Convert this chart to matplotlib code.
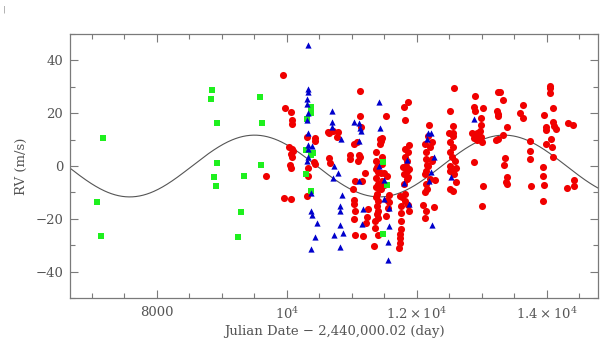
import numpy as np
import matplotlib
matplotlib.use("Agg")
import matplotlib.pyplot as plt
from matplotlib.ticker import MultipleLocator

# Radial velocity data (JD - 2,440,000.02, RV in m/s)
# green squares (oldest data set)
green_jd = [7077, 7138, 7169, 8830, 8846, 8877, 8908, 8923, 8923, 9246, 9292, 9338,
            9585, 9600, 9615, 10293, 10293, 10303, 10365, 10370, 10370, 10370, 10405,
            11472, 11482, 11534]
green_rv = [-13.7, -26.6, 10.6, 25.4, 28.8, -4.2, -7.6, 16.3, 1.1, -27.0, -17.5, -3.8,
            26.2, 0.4, 16.3, 6.1, -3.0, 17.7, 20.1, 22.5, 4.2, -9.4, 4.8,
            -25.8, 1.4, -7.1]

# blue triangles
blue_jd = [10323, 10319, 10323, 10313, 10313, 10323, 10308, 10319, 10328, 10390, 10319, 10319,
           10313, 10693, 10688, 10697, 10826, 11036, 11124, 11108, 10728, 10790, 10713, 10374,
           10370, 10380, 10467, 10431, 10370, 10851, 10816, 10820, 10820, 10857, 10724, 10820,
           11411, 11426, 11108, 11143, 12165, 12216, 12154, 12257, 11851, 11416, 11497, 11108,
           11497, 11574, 11170, 11574, 11149, 11877, 11805, 11549, 11549, 12185, 12236, 12216,
           12523, 12877]
blue_rv = [45.8, 29.0, 28.1, 25.4, 23.4, 20.2, 17.6, 12.4, 8.0, 7.7, 6.5, 3.3,
           2.0, 20.9, 16.8, 14.9, 10.1, 16.6, 14.4, 9.4, -0.1, -2.8, -4.7, -10.4,
           -16.9, -18.5, -21.4, -26.7, -31.4, -11.0, -15.1, -17.2, -22.5, -25.4, -26.1, -30.5,
           24.2, 14.3, 16.2, 13.4, 12.5, 12.5, 10.4, 3.5, 2.3, -0.1, -5.3, -5.8,
           -12.5, -16.0, -16.2, -22.7, -22.0, -14.4, -6.6, -28.6, -35.6, -5.6, -22.4, -2.4,
           -4.1, 17.8]

# red circles (most recent data set)
red_jd = [9677, 9939, 9954, 9974, 10057, 10082, 10082, 10026, 10070, 10093, 10060, 10072, 10047, 10057, 10066,
          10308, 10431, 10431, 10423, 10431, 10319, 10319, 10313,
          10636, 10652, 10713, 10790, 10770, 10652, 10662, 10964, 10964, 11036, 11082, 11124, 11124, 11139,
          11124, 11097, 11104, 11159, 11046, 11020, 11026, 11031, 11046, 11031, 11041, 11170, 11200, 11242,
          11236, 11211,
          11431, 11462, 11447, 11431, 11370, 11462, 11377, 11462, 11385, 11370, 11393, 11447, 11370, 11457,
          11400, 11365, 11447, 11416, 11380, 11370, 11393, 11380, 11400, 11380, 11400, 11354, 11354, 11400,
          11339, 11493, 11534, 11493, 11570, 11534, 11570, 11554, 11524, 11524,
          11800, 11867, 11816, 11877, 11816, 11862, 11816, 11847, 11831, 11877, 11785, 11842, 11800, 11862,
          11842, 11800, 11739, 11816, 11770, 11816, 11754, 11862, 11877, 11754, 11754, 11754, 11739, 11739,
          11739, 11724,
          12180, 12174, 12124, 12201, 12226, 12144, 12226, 12174, 12139, 12154, 12231, 12124, 12139, 12201,
          12277, 12139, 12150, 12124, 12098, 12134, 12124, 12262,
          12570, 12508, 12559, 12488, 12559, 12508, 12559, 12559, 12508, 12534, 12585, 12508, 12534, 12600,
          12508, 12575, 12595, 12508, 12549,
          12888, 12882, 12888, 13011, 12985, 12980, 12975, 12852, 12918, 12944, 12980, 12882, 12928, 12995,
          12882, 13021, 13006,
          13247, 13278, 13324, 13232, 13242, 13242, 13380, 13324, 13247, 13216, 13355, 13339, 13380, 13380,
          13370,
          13631, 13590, 13631, 13744, 13739, 13739, 13754,
          14042, 14047, 14047, 14089, 13950, 14093, 14113, 14134, 13980, 13985, 14067, 13985, 14072, 14093,
          13939, 13939, 13955, 13939,
          14328, 14405, 14313, 14416, 14416]
red_rv = [-3.8, 34.5, -12.1, 22.0, 20.6, 17.5, 15.8, 7.1, 6.3, 5.7, 4.6, 3.3, 0.4, -0.9, -12.5,
          11.0, 10.6, 9.5, 1.7, 0.8, -0.6, -3.9, -11.3,
          12.8, 12.5, 13.2, 12.8, 11.1, 3.0, 1.2, 4.3, 2.8, 8.4, 9.0, 28.5, 18.9, 14.6,
          3.3, 2.0, 4.2, -5.6, -5.6, -8.7, -13.0, -14.4, -16.9, -20.1, -26.2, -26.5, -2.8, -16.3,
          -19.2, -21.4,
          10.3, 10.6, 9.5, 8.3, 5.2, 3.6, 2.0, 0.8, -0.3, -1.0, -2.4, -2.8, -4.6, -5.6,
          -6.8, -8.1, -8.7, -8.3, -10.6, -11.9, -13.1, -15.1, -17.0, -18.2, -19.5, -20.8, -23.3, -26.2,
          -30.3, -2.8, -3.7, -7.1, -10.9, -12.9, -13.8, -16.0, -18.9, 18.9,
          22.3, 24.4, 17.6, 7.8, 6.5, 5.2, 3.3, 2.0, 0.1, -1.1, -0.5, -1.8, -3.0, -4.3,
          -4.9, -6.8, -11.3, -10.6, -11.9, -13.2, -15.1, -14.7, -17.2, -17.9, -21.0, -23.9, -25.8, -27.3,
          -29.3, -31.2,
          15.6, 11.5, 8.3, 7.1, 9.0, 5.3, 2.7, 0.1, 2.7, 0.5, 1.8, -3.0, -1.8, -4.9,
          -5.2, -6.8, -8.7, -10.0, -14.7, -17.0, -19.5, -15.5,
          29.5, 21.0, 15.3, 12.5, 12.4, 9.0, 11.5, 7.1, 5.2, 3.3, 2.0, 0.1, -2.4, -0.9,
          -2.0, -3.0, -6.0, -8.7, -9.6,
          26.7, 22.5, 21.0, 21.8, 18.2, 15.6, 13.4, 12.4, 12.5, 11.5, 10.9, 10.6, 9.9, 9.0,
          1.6, -7.5, -15.2,
          28.2, 28.0, 25.2, 21.0, 19.7, 18.9, 14.8, 11.8, 10.1, 9.9, 3.0, 0.5, -4.3, -6.8,
          -6.0,
          23.1, 20.2, 18.1, 9.5, 5.6, 2.7, -7.5,
          30.5, 29.7, 27.6, 22.1, 19.4, 16.7, 15.1, 14.0, 14.7, 13.8, 10.4, 8.3, 7.3, 3.4,
          -0.5, -3.7, -7.2, -13.4,
          16.3, 15.4, -8.5, -5.2, -7.5]

# sinusoidal orbit fit drawn over the data (parameters)
fit_period = 3840.0     # days
fit_amplitude = 11.7    # m/s
fit_t_min = 7580.0      # epoch of a velocity minimum

x_ticks = [8000, 10000, 12000, 14000]
x_tick_labels = ['8000', r'$10^4$', r'$1.2\times10^4$', r'$1.4\times10^4$']

plt.rcParams['font.family'] = 'DejaVu Serif'
plt.rcParams['mathtext.fontset'] = 'dejavuserif'

gray = '#7a7a7a'
text_gray = '#555555'

fig = plt.figure(figsize=(6, 3.38), dpi=100)
ax = fig.add_axes([0.1167, 0.1183, 0.88, 0.781])

xlim = (6662, 14785)
t = np.linspace(xlim[0], xlim[1], 600)
fit_rv = -fit_amplitude * np.cos(2 * np.pi * (t - fit_t_min) / fit_period)
ax.plot(t, fit_rv, color='#555555', lw=0.8, zorder=1)

ax.scatter(red_jd, red_rv, s=26, marker='o', color='#f00000', linewidths=0, zorder=2)
ax.scatter(green_jd, green_rv, s=14, marker='s', color='#1ef01e', linewidths=0, zorder=3)
ax.scatter(blue_jd, blue_rv, s=20, marker='^', color='#0000cc', linewidths=0, zorder=4)

ax.set_xlim(*xlim)
ax.set_ylim(-50, 50)

ax.set_xticks(x_ticks)
ax.set_xticklabels(x_tick_labels)
ax.xaxis.set_minor_locator(MultipleLocator(500))
ax.yaxis.set_major_locator(MultipleLocator(20))
ax.yaxis.set_minor_locator(MultipleLocator(10))

ax.tick_params(which='both', direction='in', top=True, right=True,
               color=gray, labelcolor=text_gray, width=0.8)
ax.tick_params(which='major', length=6, labelsize=9.5)
ax.tick_params(axis='x', which='major', pad=6)
ax.tick_params(axis='y', which='major', pad=5)
ax.tick_params(which='minor', length=3.5)

for spine in ax.spines.values():
    spine.set_color(gray)
    spine.set_linewidth(0.9)

ax.set_xlabel('Julian Date \u2212 2,440,000.02 (day)', fontsize=9.5, color=text_gray, labelpad=2)
ax.set_ylabel('RV (m/s)', fontsize=9.5, color=text_gray, labelpad=5)

# small stray mark in the top-left corner of the original
fig.text(0.004, 0.985, '|', fontsize=6, color='#888888', va='top', ha='left')

fig.savefig('out.png', dpi=100)
